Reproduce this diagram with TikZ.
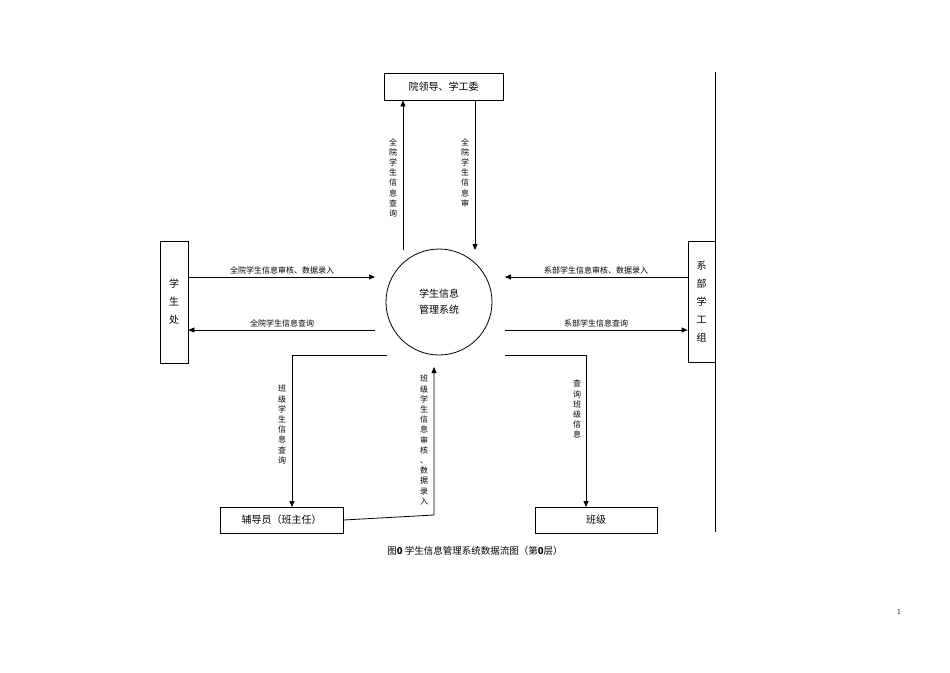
\documentclass[tikz,border=0pt]{standalone}
\usepackage{fontspec}
\newfontfamily\cjk{Noto Sans CJK SC}
\usetikzlibrary{arrows.meta}
\begin{document}
\begin{tikzpicture}[x=1pt,y=-1pt,font=\cjk,
  ent/.style={draw,thick,inner sep=0pt,font=\cjk\fontsize{10}{12}\selectfont},
  flow/.style={thick,-{Triangle[length=6pt,width=5pt]}},
  lab/.style={font=\cjk\fontsize{8}{9.6}\selectfont,align=center,inner sep=0pt},
  vlab/.style={font=\cjk\fontsize{8}{10.2}\selectfont,align=center,inner sep=0pt,anchor=north}]
\useasboundingbox (0,0) rectangle (950,672);
\node[ent,minimum width=119,minimum height=27] (top) at (443.5,86.5) {院领导、学工委};
\node[ent,minimum width=28,minimum height=122,align=center,font=\cjk\fontsize{10}{18}\selectfont] (xsc) at (174,302) {学\\生\\处};
\node[ent,minimum width=27,minimum height=121,align=center,font=\cjk\fontsize{10}{18}\selectfont] (xb) at (701.5,301.5) {系\\部\\学\\工\\组};
\draw[thick] (715,72) -- (715,532);
\node[draw,thick,circle,minimum size=106,align=center,font=\cjk\fontsize{10}{16}\selectfont] (sys) at (439,302) {学生信息\\管理系统};
\node[ent,minimum width=123,minimum height=26] (fdy) at (281.5,520) {辅导员（班主任）};
\node[ent,minimum width=122,minimum height=26] (bj) at (596,520) {班级};
% top
\coordinate (t1) at (403,250); \coordinate (t2) at (475,250);
\draw[flow] (t1) -- (t1 |- top.south);
\draw[flow] (t2 |- top.south) -- (t2);
\node[vlab] (l1) at (393,138) {全\\院\\学\\生\\信\\息\\查\\询};
\node[vlab] (l2) at (465,138) {全\\院\\学\\生\\信\\息\\审};
% left
\coordinate (a1) at (375,277); \coordinate (a2) at (375,330);
\draw[flow] (xsc.east |- a1) -- (a1);
\draw[flow] (a2) -- (xsc.east |- a2);
\node[lab] (l3) at (282,270) {全院学生信息审核、数据录入};
\node[lab] (l4) at (282,323) {全院学生信息查询};
% right
\coordinate (b1) at (505,277); \coordinate (b2) at (505,330);
\draw[flow] (xb.west |- b1) -- (b1);
\draw[flow] (b2) -- (xb.west |- b2);
\node[lab] (l5) at (596,270) {系部学生信息审核、数据录入};
\node[lab] (l6) at (596,323) {系部学生信息查询};
% bottom
\coordinate (c1) at (387,355); \coordinate (c2) at (505,355); \coordinate (c3) at (434,367);
\draw[flow] (c1) -- (292,355) -- (292,507);
\draw[flow] (fdy.east) -- (434,515) -- (c3);
\draw[flow] (c2) -- (586,355) -- (586,507);
\node[vlab] (l7) at (282,385) {班\\级\\学\\生\\信\\息\\查\\询};
\node[vlab] (l8) at (424,375) {班\\级\\学\\生\\信\\息\\审\\核\\、\\数\\据\\录\\入};
\node[vlab] (l9) at (577,380) {查\\询\\班\\级\\信\\息};
\node[font=\cjk\fontsize{9.5}{11}\selectfont] (cap) at (475,551) {图\textbf{0}\ 学生信息管理系统数据流图（第\textbf{0}层）};
\node[font=\fontsize{8}{9}\selectfont] (pg) at (899,612) {1};
\end{tikzpicture}
\end{document}
